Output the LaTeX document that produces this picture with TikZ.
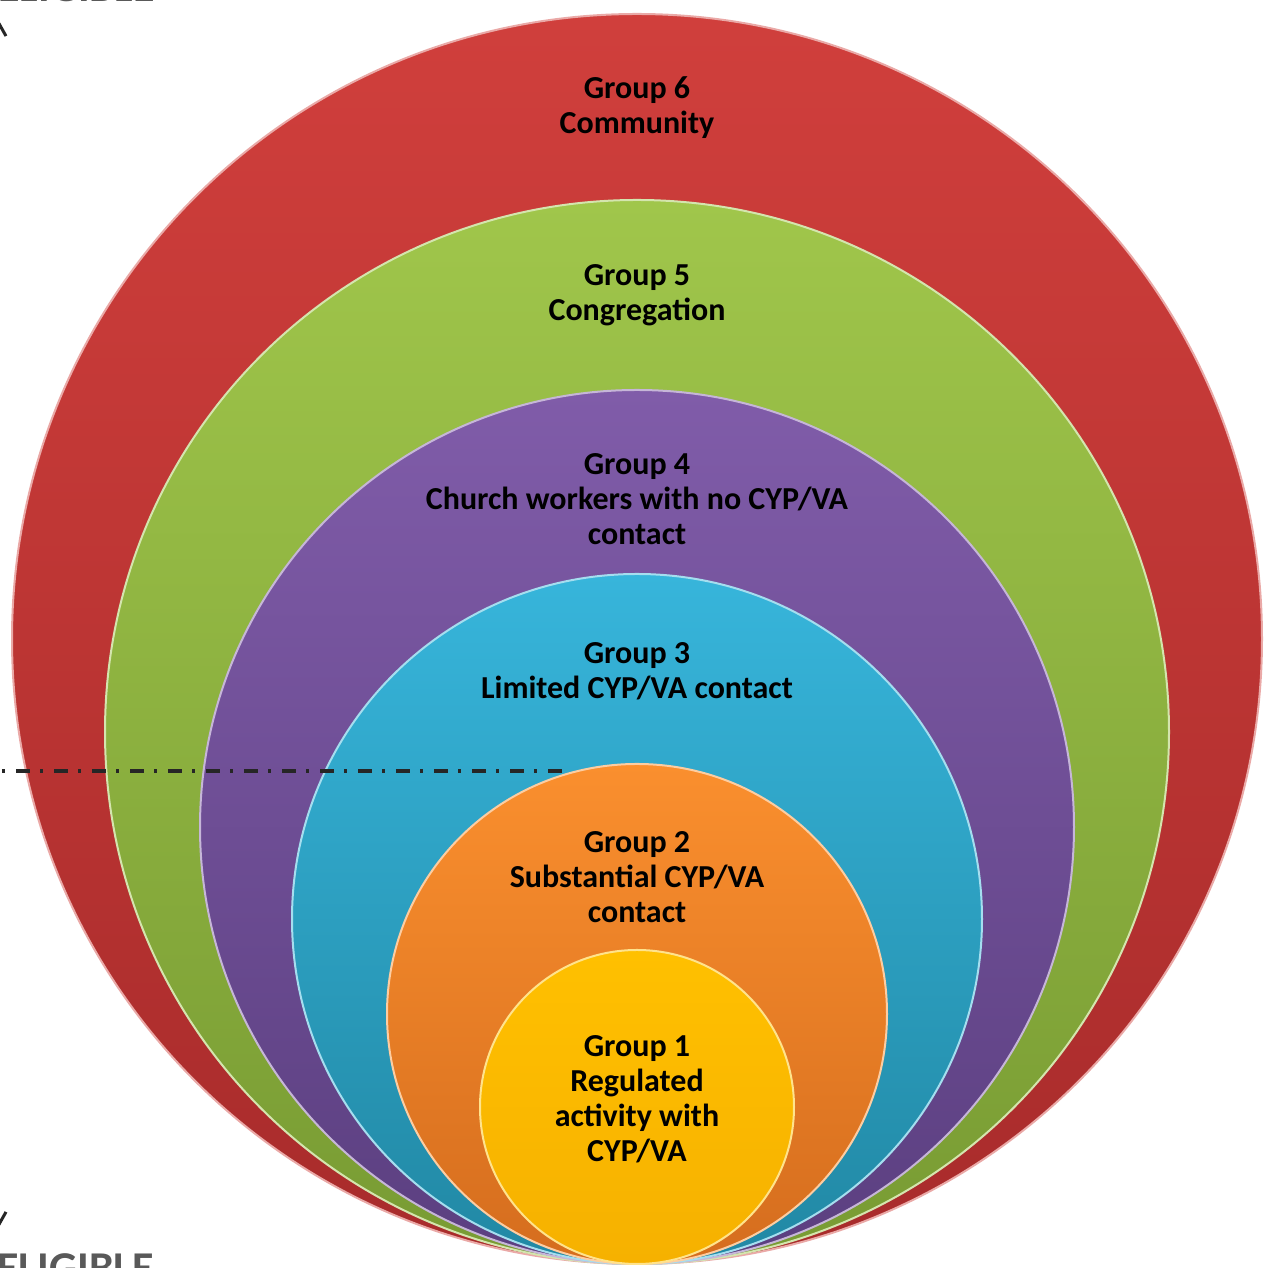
\documentclass[tikz,border=0pt]{standalone}
\usepackage{fontspec}
\setmainfont{Carlito}
\usepackage{tikz}
\usetikzlibrary{arrows.meta}
\definecolor{redtop}{HTML}{D03F3C}
\definecolor{redbot}{HTML}{A82B2B}
\definecolor{greentop}{HTML}{A0C64B}
\definecolor{greenbot}{HTML}{789B33}
\definecolor{purpletop}{HTML}{805CA9}
\definecolor{purplebot}{HTML}{5B3F80}
\definecolor{cyantop}{HTML}{37B5DB}
\definecolor{cyanbot}{HTML}{2188A4}
\definecolor{orangetop}{HTML}{FA8F2E}
\definecolor{orangebot}{HTML}{D56D1E}
\definecolor{yellowtop}{HTML}{FFC000}
\definecolor{yellowbot}{HTML}{F6B100}
\definecolor{inkgrey}{HTML}{262626}
\tikzset{
x=0.5pt, y=0.5pt, % one unit is one pixel of the picture
ring/.style 2 args={top color=#1, bottom color=#2, draw=#1!45!white, line width=1pt}, % shaded group circle
grouplabel/.style={font=\fontsize{16}{17.5}\selectfont\bfseries, align=center, text=black}, % text in a circle
cutline/.style={draw=inkgrey, line width=2pt, dash pattern=on 7pt off 5pt on 1.5pt off 5.5pt, dash phase=11pt}, % eligibility line
sidetext/.style={font=\fontsize{22}{26}\selectfont\bfseries, text=black!65, inner sep=0pt}, % cut off side text
sidearrow/.style={draw=inkgrey, line width=1.5pt, -{Straight Barb[length=8pt, width=9pt]}}, % cut off side arrow
}
\begin{document}
\begin{tikzpicture}
\useasboundingbox (0,0) rectangle (1271,1268);
\clip (0,0) rectangle (1271,1268);
% circles, largest first, all touching at the bottom
\path[ring={redtop}{redbot}] (637,629) circle (625);
\path[ring={greentop}{greenbot}] (637,536) circle (532);
\path[ring={purpletop}{purplebot}] (637,441) circle (437);
\path[ring={cyantop}{cyanbot}] (637,349) circle (345);
\path[ring={orangetop}{orangebot}] (637,254) circle (250);
\path[ring={yellowtop}{yellowbot}] (637,161) circle (157);
% labels
\node[grouplabel] (g6) at (637,1160) {Group 6\\Community};
\node[grouplabel] (g5) at (637,973) {Group 5\\Congregation};
\node[grouplabel] (g4) at (637,769) {Group 4\\Church workers with no CYP/VA\\contact};
\node[grouplabel] (g3) at (637,597) {Group 3\\Limited CYP/VA contact};
\node[grouplabel] (g2) at (637,391) {Group 2\\Substantial CYP/VA\\contact};
\node[grouplabel] (g1) at (637,169) {Group 1\\Regulated\\activity with\\CYP/VA};
% eligibility line and the side marks
\coordinate (cutleft) at (0,497);
\coordinate (cutright) at (563,497);
\draw[cutline] (cutleft) -- (cutright);
\coordinate (armmid) at (-3,497);
\coordinate (armtop) at (-3,1251);
\coordinate (armbot) at (-3,37);
\draw[sidearrow] (armmid) -- (armtop);
\draw[sidearrow] (armmid) -- (armbot);
\node[sidetext, anchor=base east] (nottext) at (155,1266) {NOT ELIGIBLE};
\node[sidetext, anchor=base west] (eligtext) at (-3,-15) {ELIGIBLE};
\end{tikzpicture}
\end{document}
